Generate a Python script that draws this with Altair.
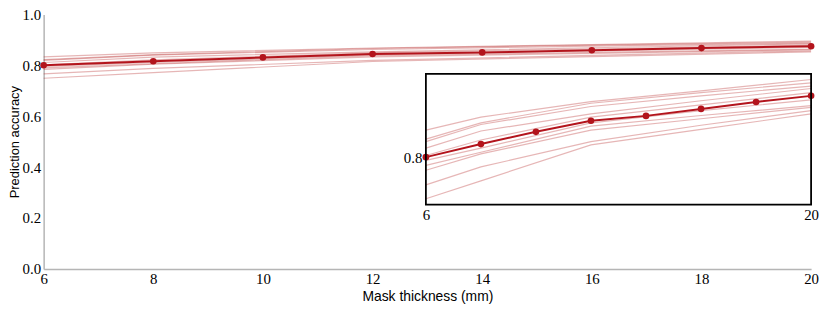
import altair as alt
import pandas as pd

# ---- data ----
thickness = [6, 8, 10, 12, 14, 16, 18, 20]
mean_acc = [0.800, 0.816, 0.831, 0.8445, 0.8505, 0.859, 0.8675, 0.875]

run_x = [6, 8, 12, 16, 20]
run_01 = [0.833, 0.849, 0.868, 0.881, 0.895]
run_02 = [0.822, 0.842, 0.866, 0.879, 0.891]
run_03 = [0.819, 0.840, 0.862, 0.875, 0.887]
run_04 = [0.811, 0.832, 0.853, 0.869, 0.884]
run_05 = [0.802, 0.821, 0.849, 0.864, 0.879]
run_06 = [0.796, 0.811, 0.842, 0.857, 0.870]
run_07 = [0.790, 0.806, 0.838, 0.851, 0.863]
run_08 = [0.784, 0.804, 0.833, 0.847, 0.861]
run_09 = [0.766, 0.788, 0.819, 0.839, 0.857]
run_10 = [0.749, 0.771, 0.815, 0.834, 0.853]
runs = [run_01, run_02, run_03, run_04, run_05, run_06, run_07, run_08, run_09, run_10]

main_x_ticks = [6, 8, 10, 12, 14, 16, 18, 20]
main_y_ticks = [0.0, 0.2, 0.4, 0.6, 0.8, 1.0]
inset_x_ticks = [6, 20]
inset_y_ticks = [0.8]
inset_y_domain = [0.742, 0.902]

runs_df = pd.DataFrame(
    [{"x": x, "acc": v, "run": f"r{i}"} for i, r in enumerate(runs) for x, v in zip(run_x, r)]
)
mean_df = pd.DataFrame({"x": thickness, "acc": mean_acc})
box_df = pd.DataFrame({"x": [run_x[0]], "x2": [run_x[-1]],
                       "acc": [inset_y_domain[0]], "acc2": [inset_y_domain[1]]})

# ---- styling ----
W, H = 775, 257
SERIF = "Liberation Serif"
SANS = "Liberation Sans"
DARK = "#b3141c"
FAINT = "#b22222"

mx = alt.X("x:Q", scale=alt.Scale(domain=[6, 20], nice=False, zero=False),
           axis=alt.Axis(values=main_x_ticks, title="Mask thickness (mm)", grid=False,
                         ticks=False, labelPadding=3, domainColor="#b5b5b5", domainWidth=1.5,
                         labelFont=SERIF, labelFontSize=15, labelColor="black",
                         titleFont=SANS, titleFontSize=14, titleFontWeight="normal",
                         titlePadding=3, titleColor="black", labelFlush=False))
my = alt.Y("acc:Q", scale=alt.Scale(domain=[0, 1], nice=False),
           axis=alt.Axis(values=main_y_ticks, format=".1f", title="Prediction accuracy",
                         grid=False, ticks=False, labelPadding=3, domainColor="#b5b5b5",
                         domainWidth=1.5, labelFont=SERIF, labelFontSize=15,
                         labelColor="black", titleFont=SANS, titleFontSize=13,
                         titleFontWeight="normal", titlePadding=1, titleColor="black"))

runs_main = alt.Chart(runs_df).mark_line(color=FAINT, opacity=0.33, strokeWidth=1.2).encode(
    x=mx, y=my, detail="run:N")
mean_main = alt.Chart(mean_df).mark_line(color=DARK, strokeWidth=2).encode(x=mx, y=my)
pts_main = alt.Chart(mean_df).mark_circle(color=DARK, size=45, opacity=1).encode(x=mx, y=my)
main = alt.layer(runs_main, mean_main, pts_main)

# inset occupies pixel x 386..775 and y 60..192 of the plot area
ix = alt.X("x:Q", scale=alt.Scale(domain=[6, 20], nice=False, zero=False, range=[386, 775]),
           axis=alt.Axis(values=inset_x_ticks, orient="bottom", offset=-65, domain=False,
                         ticks=False, grid=False, title=None, labelPadding=3,
                         labelFont=SERIF, labelFontSize=15, labelColor="black",
                         labelFlush=False))
iy = alt.Y("acc:Q", scale=alt.Scale(domain=inset_y_domain, nice=False, zero=False,
                                    range=[192, 60]),
           axis=alt.Axis(values=inset_y_ticks, format=".1f", orient="left", offset=-386,
                         domain=False, ticks=False, grid=False, title=None, labelPadding=4,
                         labelFont=SERIF, labelFontSize=15, labelColor="black"))

box = alt.Chart(box_df).mark_rect(fillOpacity=0, stroke="black", strokeWidth=1.8).encode(
    x=ix, x2="x2:Q", y=iy, y2="acc2:Q")
runs_in = alt.Chart(runs_df).mark_line(color=FAINT, opacity=0.33, strokeWidth=1.2).encode(
    x=ix, y=iy, detail="run:N")
mean_in = alt.Chart(mean_df).mark_line(color=DARK, strokeWidth=2).encode(x=ix, y=iy)
pts_in = alt.Chart(mean_df).mark_circle(color=DARK, size=45, opacity=1).encode(x=ix, y=iy)
inset = alt.layer(runs_in, mean_in, pts_in, box)

chart = alt.layer(main, inset).resolve_scale(x="independent", y="independent").properties(
    width=W, height=H,
    autosize=alt.AutoSizeParams(type="none"),
    padding={"left": 36, "top": 5, "right": 10, "bottom": 34},
).configure_view(stroke=None)

chart.save("out.html", embed_options={"renderer": "svg", "actions": False})
